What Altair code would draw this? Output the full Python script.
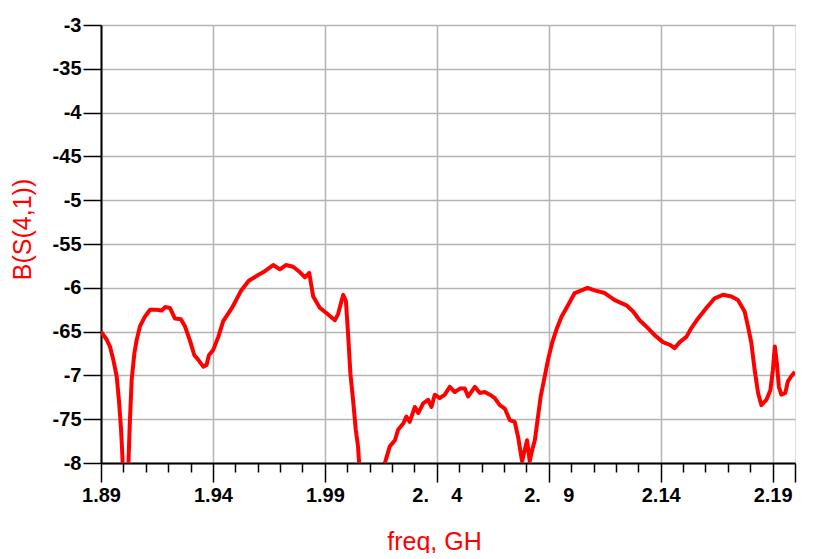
import altair as alt
import pandas as pd

# ---- data ----
freq_ghz = [
    1.8900, 1.8925, 1.8940, 1.8955, 1.8970, 1.8980, 1.8989, 1.8995, 1.9000, 1.9010,
    1.9020, 1.9028, 1.9037, 1.9049, 1.9059, 1.9074, 1.9096, 1.9119, 1.9149, 1.9171,
    1.9186, 1.9208, 1.9230, 1.9257, 1.9275, 1.9297, 1.9317, 1.9334, 1.9357, 1.9372,
    1.9382, 1.9401, 1.9424, 1.9446, 1.9485, 1.9524, 1.9560, 1.9598, 1.9632, 1.9669,
    1.9699, 1.9726, 1.9758, 1.9788, 1.9811, 1.9830, 1.9848, 1.9878, 1.9908, 1.9945,
    1.9959, 1.9982, 1.9994, 2.0004, 2.0014, 2.0026, 2.0038, 2.0048, 2.0053, 2.0080,
    2.0110, 2.0140, 2.0168, 2.0190, 2.0213, 2.0227, 2.0250, 2.0264, 2.0279, 2.0302,
    2.0317, 2.0339, 2.0361, 2.0376, 2.0391, 2.0413, 2.0436, 2.0458, 2.0480, 2.0503,
    2.0525, 2.0540, 2.0570, 2.0592, 2.0614, 2.0637, 2.0659, 2.0681, 2.0704, 2.0726,
    2.0748, 2.0763, 2.0775, 2.0781, 2.0793, 2.0803, 2.0815, 2.0826, 2.0838, 2.0850,
    2.0864, 2.0879, 2.0897, 2.0915, 2.0934, 2.0957, 2.0986, 2.1016, 2.1046, 2.1073,
    2.1105, 2.1150, 2.1195, 2.1247, 2.1277, 2.1306, 2.1343, 2.1373, 2.1410, 2.1440,
    2.1462, 2.1485, 2.1515, 2.1537, 2.1567, 2.1604, 2.1641, 2.1678, 2.1716, 2.1745,
    2.1775, 2.1790, 2.1805, 2.1820, 2.1835, 2.1850, 2.1872, 2.1890, 2.1901, 2.1910,
    2.1919, 2.1928, 2.1939, 2.1957, 2.1968, 2.1983, 2.2000,
]
s41_db = [
    -65.0, -65.9, -66.7, -68.2, -70.1, -72.8, -75.9, -78.9, -82.0, -86.0,
    -82.0, -75.9, -70.5, -67.5, -66.0, -64.4, -63.3, -62.5, -62.5, -62.6,
    -62.2, -62.3, -63.5, -63.6, -64.4, -66.0, -67.7, -68.2, -69.0, -68.8,
    -67.7, -67.1, -65.6, -63.8, -62.3, -60.4, -59.2, -58.6, -58.1, -57.4,
    -57.9, -57.4, -57.6, -58.2, -58.8, -58.3, -61.0, -62.3, -62.9, -63.7,
    -63.0, -60.8, -61.5, -65.4, -69.8, -72.8, -76.2, -78.1, -80.0, -85.0,
    -87.0, -85.0, -80.0, -78.1, -77.4, -76.2, -75.5, -74.7, -75.3, -73.6,
    -74.3, -73.2, -72.8, -73.6, -72.2, -72.6, -72.2, -71.3, -71.9, -71.5,
    -71.5, -72.4, -71.3, -72.0, -71.9, -72.2, -72.6, -73.4, -73.8, -75.1,
    -75.3, -77.0, -78.9, -79.8, -78.5, -77.4, -79.8, -78.5, -77.4, -75.1,
    -72.4, -70.5, -68.2, -66.3, -64.8, -63.3, -62.0, -60.6, -60.3, -60.0,
    -60.3, -60.6, -61.4, -62.0, -62.7, -63.7, -64.6, -65.4, -66.2, -66.5,
    -66.9, -66.2, -65.6, -64.6, -63.5, -62.3, -61.2, -60.8, -61.0, -61.4,
    -62.7, -64.4, -66.3, -69.4, -72.0, -73.4, -72.8, -71.7, -69.4, -66.7,
    -68.6, -71.3, -72.2, -72.0, -70.7, -70.1, -69.6,
]

x_major_values = [1.89, 1.94, 1.99, 2.04, 2.09, 2.14, 2.19]
x_major_labels = ["1.89", "1.94", "1.99", "2.\u00a0\u00a0\u00a0\u00a04",
                  "2.\u00a0\u00a0\u00a0\u00a09", "2.14", "2.19"]
x_tick_values = [1.89, 1.90, 1.91, 1.92, 1.93, 1.94, 1.95, 1.96, 1.97, 1.98,
                 1.99, 2.00, 2.01, 2.02, 2.03, 2.04, 2.05, 2.06, 2.07, 2.08,
                 2.09, 2.10, 2.11, 2.12, 2.13, 2.14, 2.15, 2.16, 2.17, 2.18,
                 2.19, 2.20]
x_edge_value = 2.20
y_tick_values = [-30, -35, -40, -45, -50, -55, -60, -65, -70, -75, -80]
y_tick_labels = ["-3", "-35", "-4", "-45", "-5", "-55", "-6", "-65", "-7", "-75", "-8"]

x_title = "freq, GH"
y_title = "B(S(4,1))"


def near(v):
    return f"abs(datum.value - ({v})) < 1e-6"


def label_expr(values, labels):
    expr = "''"
    for v, lab in reversed(list(zip(values, labels))):
        lab_js = "'" + lab.replace("'", "\\'") + "'"
        expr = f"({near(v)}) ? {lab_js} : {expr}"
    return expr


major_test = " || ".join(f"({near(v)})" for v in x_major_values)
long_tick_test = major_test + f" || ({near(x_edge_value)})"

df = pd.DataFrame({"freq": freq_ghz, "s41": s41_db})

FONT = "Liberation Sans"

x_axis = alt.Axis(
    values=x_tick_values,
    labelExpr=label_expr(x_major_values, x_major_labels),
    labelOverlap=False,
    labelFlush=False,
    labelFont=FONT,
    labelFontSize=20,
    labelFontWeight="bold",
    labelColor="black",
    labelPadding=3,
    tickSize={"condition": {"test": long_tick_test, "value": 19}, "value": 9},
    tickColor="black",
    tickWidth=1.5,
    domainColor="black",
    domainWidth=2,
    grid=True,
    gridColor="#b4b4b4",
    gridWidth=1.5,
    gridOpacity={"condition": {"test": major_test, "value": 1}, "value": 0},
    titleFont=FONT,
    titleFontSize=25,
    titleFontWeight="normal",
    titleColor="#ff0000",
    titleX=333,
    titleY=86,
    titleAlign="center",
    titleBaseline="alphabetic",
)

y_axis = alt.Axis(
    values=y_tick_values,
    labelExpr=label_expr(y_tick_values, y_tick_labels),
    labelOverlap=False,
    labelFlush=False,
    labelFont=FONT,
    labelFontSize=20,
    labelFontWeight="bold",
    labelColor="black",
    labelPadding=2,
    tickSize=18,
    tickColor="black",
    tickWidth=1.5,
    domainColor="black",
    domainWidth=2,
    grid=True,
    gridColor="#b4b4b4",
    gridWidth=1.5,
    titleFont=FONT,
    titleFontSize=25,
    titleFontWeight="normal",
    titleColor="#ff0000",
    titleAngle=270,
    titleX=-79,
    titleY=204,
    titleAlign="center",
    titleBaseline="middle",
)

chart = (
    alt.Chart(df)
    .mark_line(color="#ff0000", strokeWidth=4, clip=True, strokeJoin="round")
    .encode(
        x=alt.X("freq:Q", title=x_title,
                scale=alt.Scale(domain=[1.89, 2.2], nice=False, zero=False),
                axis=x_axis),
        y=alt.Y("s41:Q", title=y_title,
                scale=alt.Scale(domain=[-80, -30], nice=False, zero=False),
                axis=y_axis),
    )
    .properties(
        width=694,
        height=438,
        autosize=alt.AutoSizeParams(type="none"),
        padding={"left": 93, "top": 17, "right": 12, "bottom": 90},
    )
    .configure_view(stroke="black", strokeWidth=2)
    .configure(background="white")
)

chart.save("out.html", embed_options={"renderer": "svg", "actions": False})
